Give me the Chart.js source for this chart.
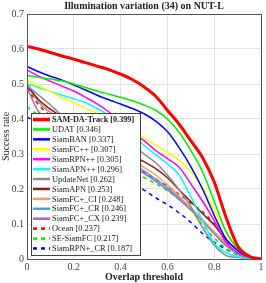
<!DOCTYPE html>
<html>
<head>
<meta charset="utf-8">
<script src="https://cdn.jsdelivr.net/npm/chart.js@4"></script>
<style>
  html, body { margin: 0; padding: 0; background: #fff; }
  #wrap { width: 266px; height: 283px; }
</style>
</head>
<body>
<div id="wrap"><canvas id="successChart" width="266" height="283"></canvas></div>
<script>
// overlap thresholds (x axis)
const thresholds = [0, 0.05, 0.1, 0.15, 0.2, 0.25, 0.3, 0.35, 0.4, 0.45, 0.5,
    0.55, 0.6, 0.65, 0.7, 0.75, 0.8, 0.85, 0.9, 0.95, 1];

const trackers = ['SAM-DA-Track', 'UDAT', 'SiamBAN', 'SiamFC++', 'SiamRPN++', 'SiamAPN++', 'UpdateNet',
    'SiamAPN', 'SiamFC+_CI', 'SiamFC+_CR', 'SiamFC+_CX', 'Ocean', 'SE-SiamFC', 'SiamRPN+_CR'];
const aucScores = [0.399, 0.346, 0.337, 0.307, 0.305, 0.296, 0.262, 0.253, 0.248, 0.246, 0.239, 0.237, 0.217, 0.187];

// success rates
const samDaTrack = [0.607, 0.600, 0.590, 0.580, 0.571, 0.561, 0.551, 0.541, 0.528, 0.513, 0.492,
    0.465, 0.425, 0.385, 0.338, 0.290, 0.220, 0.120, 0.038, 0.008, 0];
const udat = [0.524, 0.519, 0.514, 0.509, 0.500, 0.490, 0.480, 0.471, 0.462, 0.452, 0.440,
    0.425, 0.400, 0.362, 0.310, 0.249, 0.165, 0.078, 0.030, 0.006, 0];
const siamBan = [0.550, 0.535, 0.522, 0.511, 0.497, 0.483, 0.468, 0.455, 0.443, 0.430, 0.415,
    0.394, 0.364, 0.318, 0.264, 0.200, 0.125, 0.058, 0.025, 0.006, 0];
const siamFcPP = [0.511, 0.495, 0.478, 0.461, 0.446, 0.431, 0.416, 0.400, 0.385, 0.368, 0.345,
    0.325, 0.305, 0.282, 0.250, 0.205, 0.140, 0.080, 0.035, 0.006, 0];
const siamRpnPP = [0.540, 0.522, 0.508, 0.494, 0.480, 0.462, 0.443, 0.420, 0.392, 0.362, 0.338,
    0.310, 0.287, 0.262, 0.215, 0.165, 0.110, 0.048, 0.018, 0.004, 0];
const siamApnPP = [0.500, 0.490, 0.479, 0.468, 0.458, 0.447, 0.430, 0.410, 0.385, 0.355, 0.325,
    0.298, 0.272, 0.240, 0.178, 0.110, 0.045, 0.018, 0.007, 0.002, 0];
const updateNet = [0.495, 0.468, 0.440, 0.410, 0.392, 0.378, 0.365, 0.352, 0.340, 0.325, 0.300,
    0.275, 0.240, 0.198, 0.150, 0.090, 0.040, 0.010, 0.004, 0.001, 0];
const siamApn = [0.495, 0.455, 0.428, 0.405, 0.385, 0.368, 0.350, 0.333, 0.315, 0.295, 0.278,
    0.258, 0.232, 0.198, 0.164, 0.130, 0.097, 0.055, 0.025, 0.004, 0];
const siamFcCI = [0.505, 0.450, 0.420, 0.398, 0.378, 0.360, 0.342, 0.323, 0.303, 0.283, 0.262,
    0.240, 0.212, 0.180, 0.145, 0.112, 0.078, 0.045, 0.018, 0.004, 0];
const siamFcCR = [0.500, 0.448, 0.418, 0.396, 0.375, 0.356, 0.336, 0.315, 0.294, 0.272, 0.252,
    0.228, 0.204, 0.175, 0.145, 0.112, 0.075, 0.040, 0.016, 0.004, 0];
const siamFcCX = [0.490, 0.420, 0.400, 0.382, 0.365, 0.348, 0.330, 0.311, 0.290, 0.265, 0.245,
    0.222, 0.198, 0.170, 0.140, 0.108, 0.072, 0.038, 0.015, 0.003, 0];
const ocean = [0.490, 0.440, 0.410, 0.388, 0.368, 0.348, 0.328, 0.308, 0.288, 0.268, 0.248,
    0.228, 0.208, 0.185, 0.160, 0.135, 0.100, 0.050, 0.015, 0.003, 0];
const seSiamFc = [0.435, 0.410, 0.385, 0.362, 0.340, 0.318, 0.298, 0.280, 0.262, 0.247, 0.233,
    0.215, 0.195, 0.170, 0.140, 0.098, 0.060, 0.030, 0.012, 0.003, 0];
const siamRpnCR = [0.405, 0.390, 0.372, 0.352, 0.330, 0.308, 0.285, 0.262, 0.240, 0.218, 0.197,
    0.175, 0.155, 0.132, 0.105, 0.073, 0.048, 0.028, 0.012, 0.003, 0];

const yTicks = [0, 0.1, 0.2, 0.3, 0.4, 0.5, 0.6, 0.7];
const xTicks = [0, 0.2, 0.4, 0.6, 0.8, 1];

const series = [samDaTrack, udat, siamBan, siamFcPP, siamRpnPP, siamApnPP, updateNet,
    siamApn, siamFcCI, siamFcCR, siamFcCX, ocean, seSiamFc, siamRpnCR];
const colors = ['#ff0000', '#00ee00', '#0000ff', '#ffff00', '#ff00ff', '#00ffff', '#8c8c8c',
    '#8b1a1a', '#ff9955', '#3da5e8', '#a569bd', '#ff0000', '#00ee00', '#0000ff'];

const serif = "'Liberation Serif', 'Times New Roman', serif";

const datasets = series.map((vals, i) => ({
    label: `${trackers[i]} [${aucScores[i].toFixed(3)}]`,
    data: thresholds.map((t, j) => ({ x: t, y: vals[j] })),
    borderColor: colors[i],
    borderWidth: i === 0 ? 3 : 1.5,
    borderDash: i >= 11 ? [4, 4] : [],
    pointRadius: 0,
    cubicInterpolationMode: 'monotone',
    fill: false
}));

// frame, title, axis names and the boxed legend (matlab style)
const matlabDecor = {
    id: 'matlabDecor',
    afterDatasetsDraw(chart) {
        const { ctx, chartArea: a } = chart;
        ctx.save();
        ctx.strokeStyle = '#555';
        ctx.lineWidth = 1;
        ctx.setLineDash([]);
        ctx.strokeRect(Math.round(a.left) + 0.5, Math.round(a.top) + 0.5,
            Math.round(a.right - a.left), Math.round(a.bottom - a.top));

        ctx.fillStyle = '#222';
        ctx.textAlign = 'center';
        ctx.textBaseline = 'middle';
        ctx.font = `bold 10px ${serif}`;
        ctx.fillText('Illumination variation (34) on NUT-L', (a.left + a.right) / 2, 6);
        ctx.fillText('Overlap threshold', (a.left + a.right) / 2, 277);
        ctx.save();
        ctx.translate(6, (a.top + a.bottom) / 2);
        ctx.rotate(-Math.PI / 2);
        ctx.font = `10px ${serif}`;
        ctx.fillText('Success rate', 0, 0);
        ctx.restore();

        // legend
        const bx = 31, by = 113, bw = 109, bh = 142;
        ctx.fillStyle = '#fff';
        ctx.fillRect(bx, by, bw, bh);
        ctx.strokeStyle = '#444';
        ctx.lineWidth = 1;
        ctx.strokeRect(bx + 0.5, by + 0.5, bw, bh);
        ctx.textAlign = 'left';
        chart.data.datasets.forEach((ds, i) => {
            const y = 119.5 + i * 9.92;
            ctx.strokeStyle = ds.borderColor;
            ctx.lineWidth = i === 0 ? 3.5 : 2.5;
            ctx.setLineDash(ds.borderDash.length ? [4, 4] : []);
            ctx.beginPath();
            ctx.moveTo(33, y);
            ctx.lineTo(50, y);
            ctx.stroke();
            ctx.setLineDash([]);
            ctx.fillStyle = '#222';
            ctx.font = (i === 0 ? 'bold 8.2px ' : '8.4px ') + serif;
            ctx.fillText(ds.label, 52, y + 0.5);
        });
        ctx.restore();
    }
};

const ctx = document.getElementById('successChart').getContext('2d');
const successChart = new Chart(ctx, {
    type: 'line',
    data: { datasets },
    options: {
        responsive: false,
        animation: false,
        layout: { padding: { top: 14, right: 5, left: 0, bottom: 0 } },
        plugins: { legend: { display: false }, title: { display: false }, tooltip: { enabled: false } },
        scales: {
            x: {
                type: 'linear',
                min: 0,
                max: 1,
                afterBuildTicks: (scale) => { scale.ticks = xTicks.map(v => ({ value: v })); },
                afterFit: (scale) => { scale.height = 24; },
                ticks: {
                    callback: (v) => String(+v.toFixed(1)),
                    font: { family: serif, size: 10 },
                    color: '#444',
                    padding: 2,
                    maxRotation: 0
                },
                grid: { color: '#e3e3e3', drawTicks: false },
                border: { display: false }
            },
            y: {
                min: 0,
                max: 0.7,
                afterBuildTicks: (scale) => { scale.ticks = yTicks.map(v => ({ value: v })); },
                afterFit: (scale) => { scale.width = 27; },
                ticks: {
                    callback: (v) => String(+v.toFixed(1)),
                    font: { family: serif, size: 10 },
                    color: '#444',
                    padding: 3
                },
                grid: { color: '#e3e3e3', drawTicks: false },
                border: { display: false }
            }
        }
    },
    plugins: [matlabDecor]
});
</script>
</body>
</html>
